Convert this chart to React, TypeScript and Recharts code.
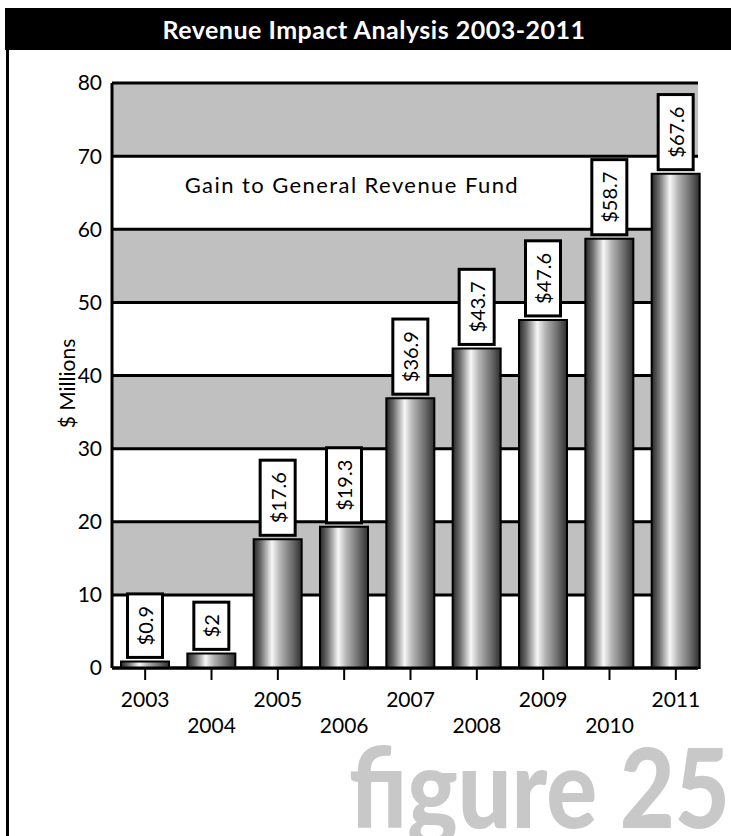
import React from "react";
import {
  BarChart,
  Bar,
  XAxis,
  YAxis,
  CartesianGrid,
  LabelList,
  ReferenceArea,
} from "recharts";

// fiscal years on the category axis
const years = ["2003", "2004", "2005", "2006", "2007", "2008", "2009", "2010", "2011"];
// gain to general revenue fund, $ millions
const gains = [0.9, 2, 17.6, 19.3, 36.9, 43.7, 47.6, 58.7, 67.6];
const yTicks = [0, 10, 20, 30, 40, 50, 60, 70, 80];

const data = years.map((year, i) => ({ year, gain: gains[i] }));

const FONT = "Lato, 'DejaVu Sans', sans-serif";
const W = 731;
const H = 836;

let measureCtx: CanvasRenderingContext2D | null = null;
function textWidth(s: string, font: string) {
  if (!measureCtx && typeof document !== "undefined") {
    measureCtx = document.createElement("canvas").getContext("2d");
  }
  if (!measureCtx) return s.length * 11;
  measureCtx.font = font;
  return measureCtx.measureText(s).width;
}

const renderValueLabel = (props: any) => {
  const vb = props.viewBox ?? props;
  const x = Number(vb.x);
  const y = Number(vb.y);
  const width = Number(vb.width);
  const text = "$" + props.value;
  const boxW = 35;
  const boxH = textWidth(text, `20px ${FONT}`) + 24;
  const cx = x + width / 2;
  const bottom = y - 4;
  const cy = bottom - boxH / 2;
  return (
    <g>
      <rect x={cx - boxW / 2} y={bottom - boxH} width={boxW} height={boxH} fill="#fff" stroke="#000" strokeWidth={3} />
      <text
        x={cx}
        y={cy}
        textAnchor="middle"
        dominantBaseline="central"
        transform={`rotate(-90 ${cx} ${cy})`}
        fontFamily={FONT}
        fontSize={20}
        fill="#000"
      >
        {text}
      </text>
    </g>
  );
};

// year labels alternate between two rows
const renderYearTick = (props: any) => {
  const { x, y, payload, index } = props;
  return (
    <text x={x} y={y + (index % 2 ? 51 : 25)} textAnchor="middle" fontFamily={FONT} fontSize={21} fill="#000">
      {payload.value}
    </text>
  );
};

export default function App() {
  return (
    <div style={{ position: "fixed", left: 0, top: 0, width: W, height: H, overflow: "hidden", background: "#fff" }}>
      <BarChart
        width={W}
        height={H}
        data={data}
        margin={{ top: 83, right: 33, bottom: 108, left: 52 }}
        barSize={48}
      >
        <defs>
          <linearGradient id="barGrad" x1="0" y1="0" x2="1" y2="0">
            <stop offset="0%" stopColor="#262626" />
            <stop offset="15%" stopColor="#6c6c6c" />
            <stop offset="38%" stopColor="#f7f7f7" />
            <stop offset="55%" stopColor="#b4b4b4" />
            <stop offset="80%" stopColor="#6e6e6e" />
            <stop offset="100%" stopColor="#2e2e2e" />
          </linearGradient>
        </defs>
        <CartesianGrid
          vertical={false}
          stroke="#000"
          strokeWidth={3}
          horizontalFill={["#c0c0c0", "#ffffff"]}
          fillOpacity={1}
        />
        <XAxis
          dataKey="year"
          interval={0}
          padding={{ left: 0, right: -11 }}
          height={60}
          axisLine={{ stroke: "#000", strokeWidth: 3 }}
          tickLine={{ stroke: "#000", strokeWidth: 2 }}
          tickSize={12}
          tickMargin={2}
          tick={renderYearTick}
        />
        <YAxis
          domain={[0, 80]}
          ticks={yTicks}
          width={60}
          axisLine={{ stroke: "#000", strokeWidth: 3 }}
          tickLine={false}
          tickSize={0}
          tickMargin={10}
          tick={{ fontFamily: FONT, fontSize: 21, fill: "#000" }}
          label={{
            value: "$ Millions",
            content: (p: any) => {
              const vb = p.viewBox;
              const lx = vb.x + 14;
              const ly = vb.y + vb.height / 2 + 8;
              return (
                <text
                  x={lx}
                  y={ly}
                  textAnchor="middle"
                  dominantBaseline="central"
                  transform={`rotate(-90 ${lx} ${ly})`}
                  fontFamily={FONT}
                  fontSize={21}
                  fill="#000"
                >
                  $ Millions
                </text>
              );
            },
          }}
        />
        <ReferenceArea
          x1="2004"
          x2="2008"
          y1={60}
          y2={70}
          fill="none"
          stroke="none"
          label={{
            value: "Gain to General Revenue Fund",
            content: (p: any) => {
              const vb = p.viewBox;
              return (
                <text
                  x={vb.x + vb.width / 2 + 7}
                  y={vb.y + vb.height / 2 - 8}
                  textAnchor="middle"
                  dominantBaseline="central"
                  fontFamily={FONT}
                  fontSize={22}
                  fill="#000"
                  textLength={333}
                  lengthAdjust="spacing"
                >
                  Gain to General Revenue Fund
                </text>
              );
            },
          }}
        />
        <Bar dataKey="gain" fill="url(#barGrad)" stroke="#000" strokeWidth={2} isAnimationActive={false}>
          <LabelList dataKey="gain" content={renderValueLabel} />
        </Bar>
      </BarChart>

      {/* title bar and frame */}
      <div
        style={{
          position: "absolute",
          left: 5,
          top: 8,
          width: W - 5,
          height: 42,
          background: "#000",
          color: "#fff",
          fontFamily: FONT,
          fontWeight: "bold",
          fontSize: 25,
          letterSpacing: 0.5,
          lineHeight: "42px",
          textAlign: "center",
          paddingLeft: 12,
          boxSizing: "border-box",
        }}
      >
        Revenue Impact Analysis 2003-2011
      </div>
      <div style={{ position: "absolute", left: 6, top: 50, width: 3, height: H - 50, background: "#000" }} />

      <svg width={W} height={H} style={{ position: "absolute", left: 0, top: 0, pointerEvents: "none" }}>
        <text
          x={349}
          y={828}
          fontFamily={FONT}
          fontWeight={900}
          fontSize={110}
          fill="#c8c8c8"
          textLength={381}
          lengthAdjust="spacingAndGlyphs"
        >
          figure 25
        </text>
      </svg>
    </div>
  );
}
